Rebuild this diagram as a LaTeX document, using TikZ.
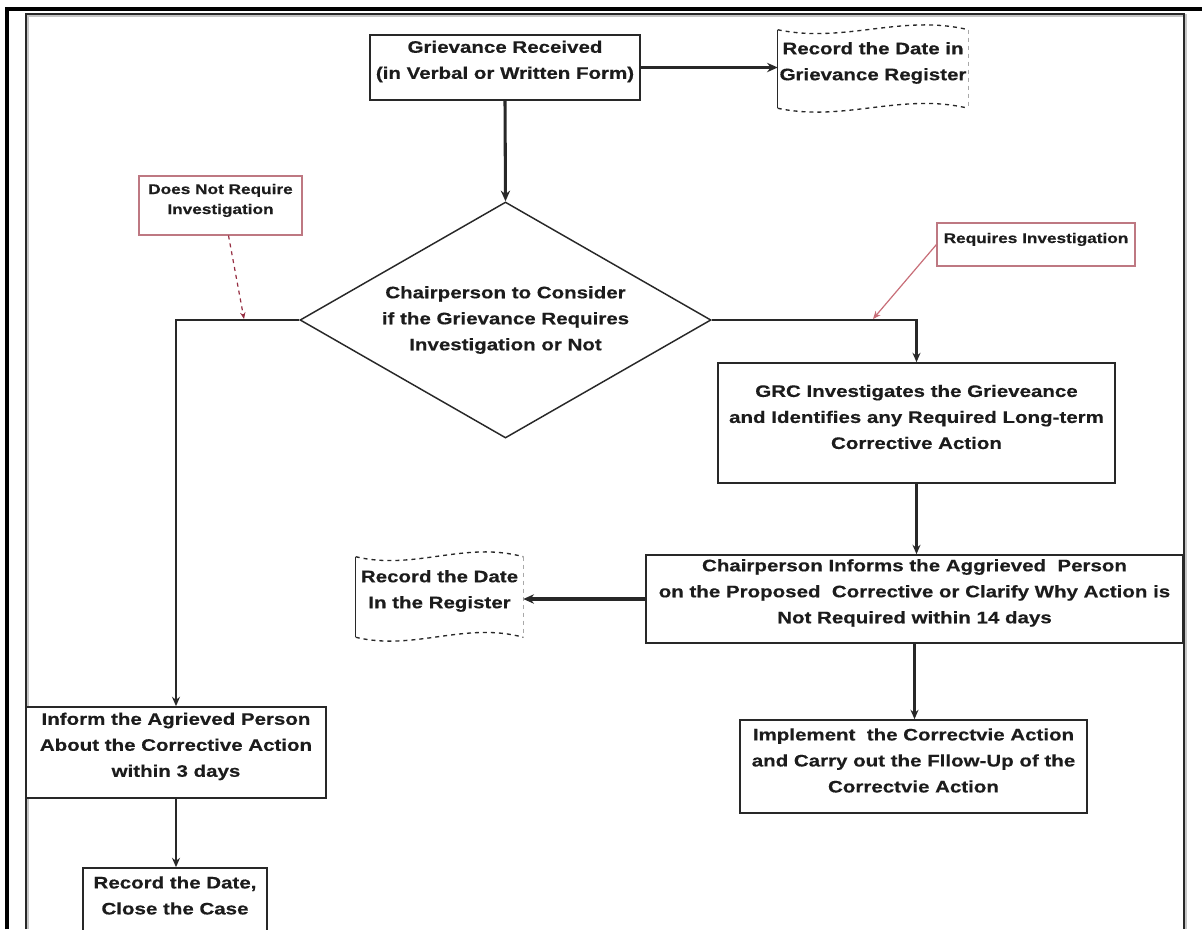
\documentclass[tikz,border=0pt]{standalone}
\usepackage{fontspec}
\setmainfont{Liberation Sans}[FakeStretch=1.23, BoldFeatures={FakeBold=0.4}]
\usetikzlibrary{shapes.geometric,fit,calc,arrows.meta}
\definecolor{ink}{RGB}{28,28,28}
\definecolor{edge}{RGB}{40,40,40}
\definecolor{labred}{RGB}{190,120,130}
\definecolor{arrred}{RGB}{150,45,65}
\definecolor{arrpink}{RGB}{200,110,120}
\newcommand{\tapeshape}[1]{%
  \draw[edge, line width=1pt] (#1.north west) -- (#1.south west);
  \draw[edge, line width=1pt, dashed] (#1.north west) .. controls ($(#1.north west)!0.35!(#1.north east)+(0,14)$) and ($(#1.north west)!0.65!(#1.north east)+(0,-16)$) .. (#1.north east);
  \draw[edge, line width=1pt, dashed] (#1.south west) .. controls ($(#1.south west)!0.35!(#1.south east)+(0,14)$) and ($(#1.south west)!0.65!(#1.south east)+(0,-16)$) .. (#1.south east);
  \draw[edge!40, line width=0.6pt, dashed] (#1.north east) -- (#1.south east);
}
\begin{document}
\begin{tikzpicture}[x=0.75pt, y=-0.75pt,
  font=\fontsize{12.5}{19.5}\selectfont\bfseries,
  box/.style={draw=edge, line width=1.3pt, inner sep=0pt, fill=white, align=center, text=ink},
  tapebox/.style={inner sep=0pt, align=center, text=ink},
  lab/.style={draw=labred, line width=0.8pt, fill=white, inner sep=0pt, align=center, text=ink,
    font=\fontsize{10.5}{15}\selectfont\bfseries},
  flow/.style={draw=edge, line width=1.6pt, -{Stealth[length=7pt,width=6pt]}},
  bigflow/.style={draw=edge, line width=2.3pt, -{Stealth[length=8pt,width=7pt]}},
  redflow/.style={draw=arrred, line width=0.9pt, dashed, -{Stealth[length=5pt,width=4pt]}},
  pinkflow/.style={draw=arrpink, line width=0.9pt, -{Stealth[length=6pt,width=5pt]}}
]
\useasboundingbox (0,0) rectangle (1202,929);
\clip (0,0) rectangle (1202,929);
\fill[white] (0,0) rectangle (1202,929);

% frame
\draw[black, line width=2.4pt] (7,929) -- (7,9) -- (1202,9);
\draw[gray!45, line width=2.4pt] (27.5,929) -- (27.5,15.5) -- (1185.5,15.5) -- (1185.5,929);
\draw[edge, line width=1.3pt] (26,929) -- (26,14) -- (1184,14) -- (1184,929);

% nodes
\node[box, fit={(370,35)(640,100)}] (g) {Grievance Received\\(in Verbal or Written Form)};
\node[tapebox, fit={(778,30)(968,108)}] (r1) {Record the Date in\\Grievance Register};
\node[shape=diamond, draw=edge, line width=1.1pt, inner sep=0pt, aspect=1.74,
      minimum width=308.25pt, minimum height=177pt, align=center, text=ink] (dia) at (505.5,320)
      {Chairperson to Consider\\if the Grievance Requires\\Investigation or Not};
\node[lab, fit={(139,176)(302,235)}] (l1) {Does Not Require\\Investigation};
\node[lab, fit={(937,223)(1135,266)}] (l2) {Requires Investigation};
\node[box, fit={(718,363)(1115,483)}] (grc) {GRC Investigates the Grieveance\\and Identifies any Required Long-term\\Corrective Action};
\node[box, fit={(646,555)(1183,643)}] (chi) {Chairperson Informs the Aggrieved\ \ Person\\on the Proposed\ \ Corrective or Clarify Why Action is\\Not Required within 14 days};
\node[tapebox, fit={(356,557)(523,637)}] (r2) {Record the Date\\In the Register};
\node[box, fit={(740,720)(1087,813)}] (imp) {Implement\ \ the Correctvie Action\\and Carry out the Fllow-Up of the\\Correctvie Action};
\node[box, fit={(26,707)(326,798)}] (inf) {Inform the Agrieved Person\\About the Corrective Action\\within 3 days};
\node[box, fit={(83,868)(267,935)}] (r3) {Record the Date,\\Close the Case};

\tapeshape{r1}
\tapeshape{r2}

% connectors
\draw[bigflow] (g.east) -- (g.east -| r1.west);
\draw[bigflow] (g.south) -- (dia.north);
\draw[flow] (dia.west) -| (inf.north);
\draw[flow] (dia.east) -| (grc.north);
\draw[flow] (grc.south) -- (grc.south |- chi.north);
\draw[bigflow] (chi.west) -- (chi.west -| r2.east);
\draw[flow] (chi.south) -- (chi.south |- imp.north);
\draw[flow] (inf.south) -- (inf.south |- r3.north);

\coordinate (c1) at (244,319);
\coordinate (c2) at (873,319);
\draw[redflow] ($(l1.south)+(8,0)$) -- (c1);
\draw[pinkflow] (l2.west) -- (c2);
\end{tikzpicture}
\end{document}
